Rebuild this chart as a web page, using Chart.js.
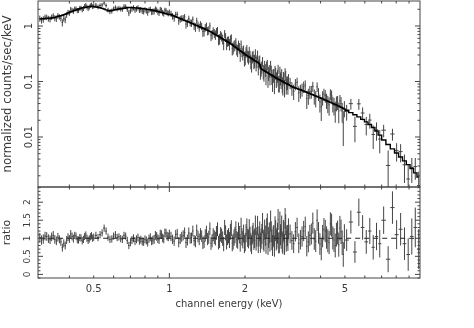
<!DOCTYPE html>
<html>
<head>
<meta charset="utf-8">
<script src="https://cdn.jsdelivr.net/npm/chart.js@4.4.1/dist/chart.umd.min.js"></script>
<style>
  html, body { margin: 0; padding: 0; background: #fff; }
  #wrap { width: 474px; height: 328px; }
</style>
</head>
<body>
<div id="wrap"><canvas id="out" width="474" height="328"></canvas></div>
<script>
// channel energy of each bin (keV)
const energies = [
  0.305,0.31,0.315,0.32,0.325,0.33,0.335,0.34,0.345,0.35,0.355,0.36,0.365,0.37,0.375,0.38,0.385,0.39,0.395,0.4,
  0.405,0.41,0.415,0.42,0.425,0.43,0.435,0.44,0.445,0.45,0.455,0.46,0.465,0.47,0.475,0.48,0.485,0.49,0.495,0.5,
  0.51,0.52,0.53,0.54,0.55,0.56,0.57,0.58,0.59,0.6,0.61,0.62,0.63,0.64,0.65,0.66,0.67,0.68,0.69,0.7,
  0.71,0.72,0.73,0.74,0.75,0.76,0.77,0.78,0.79,0.8,0.81,0.82,0.83,0.84,0.85,0.86,0.87,0.88,0.89,0.9,
  0.91,0.92,0.93,0.94,0.95,0.96,0.97,0.98,0.99,1.0,
  1.015,1.03,1.045,1.06,1.075,1.09,1.105,1.12,1.135,1.15,1.165,1.18,1.195,1.21,1.225,1.24,1.255,1.27,1.285,1.3,1.315,1.33,
  1.345,1.36,1.375,1.39,1.405,1.42,1.435,1.45,1.465,1.48,1.495,1.51,1.525,1.54,1.555,1.57,1.585,1.6,1.615,1.63,1.645,1.66,
  1.675,1.69,1.705,1.72,1.735,1.75,1.765,1.78,1.795,1.81,1.825,1.84,1.855,1.87,1.885,1.9,1.915,1.93,1.945,1.96,1.975,1.99,
  2.005,2.02,2.035,2.05,2.065,2.08,2.095,2.11,2.125,2.14,2.155,2.17,2.185,2.2,2.215,2.23,2.245,2.26,2.275,2.29,2.305,2.32,
  2.335,2.35,2.365,2.38,2.395,2.41,2.425,2.44,2.455,2.47,2.485,2.5,2.515,2.53,2.545,2.56,2.575,2.59,2.605,2.62,2.635,2.65,
  2.665,2.68,2.695,2.71,2.725,2.74,2.755,2.77,2.785,2.8,2.815,2.83,2.845,2.86,2.875,2.89,2.905,2.92,2.935,2.95,2.965,2.98,
  3.025,3.075,3.125,3.175,3.225,3.275,3.325,3.375,3.425,3.475,3.525,3.575,3.625,3.675,3.725,3.775,3.825,3.875,3.925,3.975,
  4.025,4.075,4.125,4.175,4.225,4.275,4.325,4.375,4.425,4.475,4.525,4.575,4.625,4.675,4.725,4.775,4.825,4.875,4.925,4.975,
  5.08,5.28,5.48,5.68,5.88,6.08,6.28,6.48,6.68,6.88,
  7.13,7.43,7.73,8.03,8.33,8.63,8.93,9.23,9.53,9.83
];
// half width of each bin (keV)
const binHalfWidths = [
  0.0025,0.0025,0.0025,0.0025,0.0025,0.0025,0.0025,0.0025,0.0025,0.0025,0.0025,0.0025,0.0025,0.0025,0.0025,0.0025,0.0025,0.0025,0.0025,0.0025,
  0.0025,0.0025,0.0025,0.0025,0.0025,0.0025,0.0025,0.0025,0.0025,0.0025,0.0025,0.0025,0.0025,0.0025,0.0025,0.0025,0.0025,0.0025,0.0025,0.0025,
  0.005,0.005,0.005,0.005,0.005,0.005,0.005,0.005,0.005,0.005,0.005,0.005,0.005,0.005,0.005,0.005,0.005,0.005,0.005,0.005,
  0.005,0.005,0.005,0.005,0.005,0.005,0.005,0.005,0.005,0.005,0.005,0.005,0.005,0.005,0.005,0.005,0.005,0.005,0.005,0.005,
  0.005,0.005,0.005,0.005,0.005,0.005,0.005,0.005,0.005,0.005,
  0.0075,0.0075,0.0075,0.0075,0.0075,0.0075,0.0075,0.0075,0.0075,0.0075,0.0075,0.0075,0.0075,0.0075,0.0075,0.0075,0.0075,0.0075,0.0075,0.0075,0.0075,0.0075,
  0.0075,0.0075,0.0075,0.0075,0.0075,0.0075,0.0075,0.0075,0.0075,0.0075,0.0075,0.0075,0.0075,0.0075,0.0075,0.0075,0.0075,0.0075,0.0075,0.0075,0.0075,0.0075,
  0.0075,0.0075,0.0075,0.0075,0.0075,0.0075,0.0075,0.0075,0.0075,0.0075,0.0075,0.0075,0.0075,0.0075,0.0075,0.0075,0.0075,0.0075,0.0075,0.0075,0.0075,0.0075,
  0.0075,0.0075,0.0075,0.0075,0.0075,0.0075,0.0075,0.0075,0.0075,0.0075,0.0075,0.0075,0.0075,0.0075,0.0075,0.0075,0.0075,0.0075,0.0075,0.0075,0.0075,0.0075,
  0.0075,0.0075,0.0075,0.0075,0.0075,0.0075,0.0075,0.0075,0.0075,0.0075,0.0075,0.0075,0.0075,0.0075,0.0075,0.0075,0.0075,0.0075,0.0075,0.0075,0.0075,0.0075,
  0.0075,0.0075,0.0075,0.0075,0.0075,0.0075,0.0075,0.0075,0.0075,0.0075,0.0075,0.0075,0.0075,0.0075,0.0075,0.0075,0.0075,0.0075,0.0075,0.0075,0.0075,0.0075,
  0.025,0.025,0.025,0.025,0.025,0.025,0.025,0.025,0.025,0.025,0.025,0.025,0.025,0.025,0.025,0.025,0.025,0.025,0.025,0.025,
  0.025,0.025,0.025,0.025,0.025,0.025,0.025,0.025,0.025,0.025,0.025,0.025,0.025,0.025,0.025,0.025,0.025,0.025,0.025,0.025,
  0.1,0.1,0.1,0.1,0.1,0.1,0.1,0.1,0.1,0.1,
  0.15,0.15,0.15,0.15,0.15,0.15,0.15,0.15,0.15,0.15
];
// folded model, normalized counts/sec/keV
const modelCounts = [
  1.34,1.345,1.35,1.36,1.37,1.375,1.38,1.39,1.41,1.43,1.46,1.48,1.51,1.53,1.56,1.59,1.63,1.67,1.71,1.75,
  1.80,1.83,1.87,1.90,1.94,1.98,2.02,2.05,2.09,2.12,2.14,2.16,2.18,2.20,2.21,2.23,2.24,2.25,2.24,2.23,
  2.20,2.17,2.13,2.08,2.02,1.95,1.88,1.88,1.90,1.93,1.96,1.99,2.02,2.05,2.07,2.09,2.11,2.13,2.15,2.15,
  2.14,2.13,2.12,2.11,2.10,2.09,2.07,2.06,2.04,2.03,2.01,1.99,1.97,1.96,1.94,1.92,1.90,1.88,1.85,1.83,
  1.80,1.78,1.75,1.73,1.71,1.68,1.66,1.64,1.62,1.60,
  1.59,1.55,1.51,1.47,1.43,1.40,1.36,1.32,1.29,1.26,1.23,1.20,1.18,1.15,1.12,1.10,1.07,1.045,1.02,0.997,0.974,0.952,
  0.931,0.910,0.890,0.871,0.852,0.834,0.816,0.800,0.783,0.762,0.742,0.722,0.703,0.685,0.667,0.650,0.633,0.617,0.602,0.587,0.572,0.558,
  0.545,0.532,0.519,0.507,0.495,0.483,0.472,0.459,0.446,0.433,0.421,0.410,0.399,0.388,0.378,0.368,0.358,0.349,0.340,0.331,0.323,0.315,
  0.307,0.300,0.293,0.287,0.281,0.275,0.270,0.264,0.259,0.254,0.249,0.244,0.239,0.234,0.230,0.226,0.222,0.218,0.214,0.200,0.180,0.172,
  0.165,0.162,0.160,0.157,0.155,0.152,0.150,0.147,0.145,0.142,0.140,0.137,0.135,0.133,0.131,0.129,0.127,0.125,0.123,0.121,0.119,0.117,
  0.1156,0.114,0.112,0.1105,0.109,0.1077,0.1063,0.1049,0.1035,0.1021,0.1008,0.0995,0.0982,0.0970,0.0957,0.0945,0.0933,0.0921,0.0910,0.0899,0.0888,0.0877,
  0.0844,0.0812,0.0786,0.0762,0.0745,0.0726,0.0709,0.0690,0.0672,0.0654,0.0638,0.0621,0.0606,0.0590,0.0576,0.0562,0.0549,0.0535,0.0523,0.0510,
  0.0499,0.0487,0.0475,0.0463,0.0452,0.0441,0.0431,0.0421,0.0411,0.0401,0.0393,0.0384,0.0376,0.0368,0.0360,0.0352,0.0344,0.0336,0.0327,0.0318,
  0.0303,0.0275,0.0251,0.0230,0.0208,0.0187,0.0168,0.0148,0.0128,0.0108,
  0.00884,0.00732,0.00612,0.00516,0.00437,0.00371,0.00318,0.0027,0.00226,0.0019
];
// data / model ratio
const ratioValues = [
  1.02,0.95,0.98,1.06,1.05,0.99,0.96,1.04,1.08,0.97,0.93,1.03,0.97,0.90,0.74,0.86,0.80,0.95,1.03,0.98,
  1.12,1.05,0.99,1.08,1.06,0.96,0.95,1.02,1.01,0.93,0.97,1.05,1.09,1.00,0.94,0.98,1.04,1.07,1.00,1.03,
  1.08,1.02,1.10,1.15,1.28,1.20,1.03,0.97,0.98,1.06,1.10,1.02,1.04,0.99,0.97,1.08,1.06,0.94,0.80,0.88,
  0.95,1.00,0.92,0.97,1.02,0.93,0.96,0.91,0.90,0.97,0.94,0.88,0.99,1.03,0.92,0.95,0.97,1.08,1.05,0.99,
  0.96,1.12,1.10,1.01,0.98,1.15,1.14,1.06,1.04,1.12,
  1.05,0.97,0.92,1.10,1.12,0.89,0.98,1.04,1.08,1.16,0.88,0.95,1.15,1.00,1.01,1.20,0.94,0.91,1.22,1.05,0.97,1.12,
  1.06,0.87,0.90,1.08,1.18,0.98,1.03,1.26,0.86,0.93,1.10,1.03,0.99,1.15,1.25,0.88,0.93,1.11,1.07,0.99,0.84,1.30,
  1.15,0.90,1.02,1.07,0.95,1.18,1.28,0.86,0.91,1.02,1.09,1.24,0.97,0.94,1.20,1.10,0.87,1.33,1.04,0.96,1.13,0.84,
  0.89,1.14,1.30,1.01,0.98,1.27,1.06,0.89,0.82,1.09,1.16,0.95,1.00,1.36,0.93,1.04,1.35,0.86,1.05,1.19,0.88,0.99,
  1.12,1.42,0.96,0.91,1.24,1.07,0.85,1.28,1.40,0.83,1.02,1.15,0.92,1.48,1.18,0.96,0.80,1.04,1.08,0.78,1.32,1.21,
  0.95,1.00,1.14,1.52,0.87,0.88,1.45,1.10,1.00,1.34,0.90,0.85,1.22,1.17,0.83,1.55,1.38,0.92,1.06,1.08,0.94,1.26,
  1.12,0.94,0.85,1.18,1.30,0.86,0.96,1.05,1.20,1.32,0.78,0.90,1.08,1.12,1.42,0.98,0.92,1.50,1.15,0.84,
  0.70,1.06,1.25,1.20,1.02,0.93,0.88,1.40,1.36,1.01,0.95,0.80,1.10,1.16,0.82,1.28,1.18,0.88,0.55,1.05,
  0.95,1.45,0.62,1.72,1.30,0.90,1.20,0.75,1.05,0.85,
  1.50,0.42,1.85,1.10,1.25,0.85,0.55,1.05,1.30,0.70
];
// 1-sigma error of the ratio
const ratioErrors = [
  0.13,0.13,0.13,0.12,0.12,0.12,0.12,0.12,0.12,0.12,0.12,0.12,0.11,0.11,0.11,0.11,0.11,0.11,0.11,0.11,
  0.11,0.11,0.11,0.10,0.10,0.10,0.10,0.10,0.10,0.10,0.10,0.10,0.10,0.10,0.10,0.10,0.10,0.10,0.10,0.10,
  0.10,0.10,0.10,0.10,0.10,0.10,0.10,0.10,0.10,0.10,0.10,0.10,0.10,0.10,0.10,0.10,0.10,0.10,0.10,0.10,
  0.11,0.11,0.11,0.11,0.11,0.11,0.11,0.11,0.11,0.11,0.11,0.11,0.11,0.11,0.11,0.12,0.12,0.12,0.12,0.12,
  0.12,0.12,0.12,0.12,0.12,0.12,0.12,0.12,0.12,0.12,
  0.13,0.13,0.13,0.13,0.14,0.14,0.14,0.14,0.14,0.14,0.15,0.15,0.15,0.15,0.15,0.15,0.15,0.16,0.16,0.16,0.16,0.16,
  0.16,0.17,0.17,0.17,0.17,0.17,0.18,0.18,0.18,0.18,0.18,0.19,0.19,0.19,0.19,0.19,0.20,0.20,0.20,0.20,0.20,0.21,
  0.21,0.21,0.21,0.21,0.22,0.22,0.22,0.22,0.22,0.23,0.23,0.23,0.23,0.23,0.24,0.24,0.24,0.24,0.24,0.24,0.25,0.25,
  0.25,0.25,0.25,0.25,0.26,0.26,0.26,0.26,0.26,0.26,0.27,0.27,0.27,0.27,0.27,0.27,0.27,0.27,0.28,0.28,0.28,0.28,
  0.28,0.28,0.28,0.28,0.28,0.28,0.28,0.28,0.29,0.29,0.29,0.29,0.29,0.29,0.29,0.29,0.29,0.29,0.29,0.29,0.29,0.29,
  0.29,0.29,0.29,0.29,0.29,0.29,0.29,0.29,0.29,0.29,0.29,0.29,0.29,0.29,0.29,0.29,0.29,0.29,0.29,0.29,0.29,0.29,
  0.26,0.26,0.26,0.27,0.27,0.27,0.27,0.28,0.28,0.28,0.28,0.29,0.29,0.29,0.29,0.30,0.30,0.30,0.30,0.30,
  0.31,0.31,0.31,0.31,0.31,0.32,0.32,0.32,0.32,0.32,0.33,0.33,0.33,0.33,0.33,0.34,0.34,0.34,0.34,0.34,
  0.30,0.32,0.30,0.38,0.34,0.33,0.36,0.34,0.38,0.38,
  0.38,0.36,0.45,0.40,0.45,0.45,0.45,0.50,0.55,0.55
];
const xTickLabels = [0.5, 1, 2, 5];
const countTickLabels = [0.01, 0.1, 1];
const ratioTickLabels = [0, 0.5, 1, 1.5, 2];
const ratioUnity = 1;

const xMin = 0.306, xMax = 9.95;

const counts = modelCounts.map((m, i) => m * ratioValues[i]);
const countErrors = modelCounts.map((m, i) => m * ratioErrors[i]);

// error-bar crosses as broken line pieces
function crosses(vals, errs, floor) {
  const pts = [];
  for (let i = 0; i < energies.length; i++) {
    const e = energies[i], hw = binHalfWidths[i];
    pts.push({x: e, y: Math.max(vals[i] - errs[i], floor)}, {x: e, y: vals[i] + errs[i]}, {x: e, y: null});
    pts.push({x: e - hw, y: vals[i]}, {x: e + hw, y: vals[i]}, {x: e + hw, y: null});
  }
  return pts;
}

const FONT = '"DejaVu Sans", sans-serif';
const INK = '#3a3a3a';

const framePlugin = {
  id: 'frame',
  afterDraw(chart) {
    const ctx = chart.ctx;
    const sx = chart.scales.x, yt = chart.scales.yTop, yr = chart.scales.yRatio;
    const L = sx.left, R = sx.right;
    ctx.save();
    ctx.strokeStyle = '#444';
    ctx.lineWidth = 1;
    ctx.strokeRect(L, yt.top, R - L, yt.bottom - yt.top);
    ctx.strokeRect(L, yr.top, R - L, yr.bottom - yr.top);

    const xMinor = [0.4, 0.5, 0.6, 0.7, 0.8, 0.9, 2, 3, 4, 5, 6, 7, 8, 9];
    const xMajor = [1];
    ctx.beginPath();
    [yt, yr].forEach(s => {
      xMinor.concat(xMajor).forEach(v => {
        const len = xMajor.includes(v) ? 5 : 2.5;
        const px = sx.getPixelForValue(v);
        ctx.moveTo(px, s.top); ctx.lineTo(px, s.top + len);
        ctx.moveTo(px, s.bottom); ctx.lineTo(px, s.bottom - len);
      });
    });
    // log ticks of the count panel
    [0.001, 0.01, 0.1, 1].forEach(dec => {
      for (let k = 1; k < 10; k++) {
        const v = dec * k;
        if (v < yt.min || v > yt.max) continue;
        const len = k === 1 ? 5 : 2.5;
        const py = yt.getPixelForValue(v);
        ctx.moveTo(L, py); ctx.lineTo(L + len, py);
        ctx.moveTo(R, py); ctx.lineTo(R - len, py);
      }
    });
    // linear ticks of the ratio panel
    for (let k = -1; k <= 24; k++) {
      const v = k / 10;
      const len = k % 5 === 0 ? 5 : 2.5;
      const py = yr.getPixelForValue(v);
      ctx.moveTo(L, py); ctx.lineTo(L + len, py);
      ctx.moveTo(R, py); ctx.lineTo(R - len, py);
    }
    ctx.stroke();

    ctx.fillStyle = INK;
    ctx.textAlign = 'center';
    ctx.textBaseline = 'middle';
    ctx.font = '10px ' + FONT;
    xTickLabels.forEach(v => ctx.fillText(String(v), sx.getPixelForValue(v), yr.bottom + 11));
    ctx.fillText('channel energy (keV)', (L + R) / 2, yr.bottom + 26);

    function vtext(t, x, y, size) {
      ctx.save();
      ctx.translate(x, y);
      ctx.rotate(-Math.PI / 2);
      ctx.font = size + 'px ' + FONT;
      ctx.fillText(t, 0, 0);
      ctx.restore();
    }
    countTickLabels.forEach(v => vtext(String(v), L - 9, yt.getPixelForValue(v), 10));
    ratioTickLabels.forEach(v => vtext(String(v), L - 10, yr.getPixelForValue(v), 9));
    vtext('normalized counts/sec/keV', 8, (yt.top + yt.bottom) / 2, 11.7);
    vtext('ratio', 7, (yr.top + yr.bottom) / 2, 11);
    ctx.restore();
  }
};

new Chart(document.getElementById('out').getContext('2d'), {
  type: 'line',
  data: {
    datasets: [
      {
        label: 'model',
        data: energies.map((e, i) => ({x: e, y: modelCounts[i]})),
        yAxisID: 'yTop',
        borderColor: '#000',
        borderWidth: 1.4,
        stepped: 'middle',
        pointRadius: 0,
        clip: 0
      },
      {
        label: 'data',
        data: crosses(counts, countErrors, 1e-5),
        yAxisID: 'yTop',
        borderColor: '#444',
        borderWidth: 1,
        pointRadius: 0,
        spanGaps: false,
        clip: 0
      },
      {
        label: 'unity',
        data: [{x: xMin, y: ratioUnity}, {x: xMax, y: ratioUnity}],
        yAxisID: 'yRatio',
        borderColor: '#222',
        borderWidth: 1,
        borderDash: [5, 4],
        pointRadius: 0,
        clip: 0
      },
      {
        label: 'ratio',
        data: crosses(ratioValues, ratioErrors, -1),
        yAxisID: 'yRatio',
        borderColor: '#444',
        borderWidth: 1,
        pointRadius: 0,
        spanGaps: false,
        clip: 0
      }
    ]
  },
  options: {
    responsive: false,
    animation: false,
    events: [],
    layout: {padding: {left: 38, right: 54, top: 1, bottom: 50}},
    plugins: {legend: {display: false}, tooltip: {enabled: false}},
    scales: {
      x: {type: 'logarithmic', min: xMin, max: xMax, display: false},
      yRatio: {type: 'linear', min: -0.1, max: 2.42, display: false, position: 'left', stack: 'panels', stackWeight: 91},
      yTop: {type: 'logarithmic', min: 0.001256, max: 2.82, display: false, position: 'left', stack: 'panels', stackWeight: 186}
    }
  },
  plugins: [framePlugin]
});
</script>
</body>
</html>
